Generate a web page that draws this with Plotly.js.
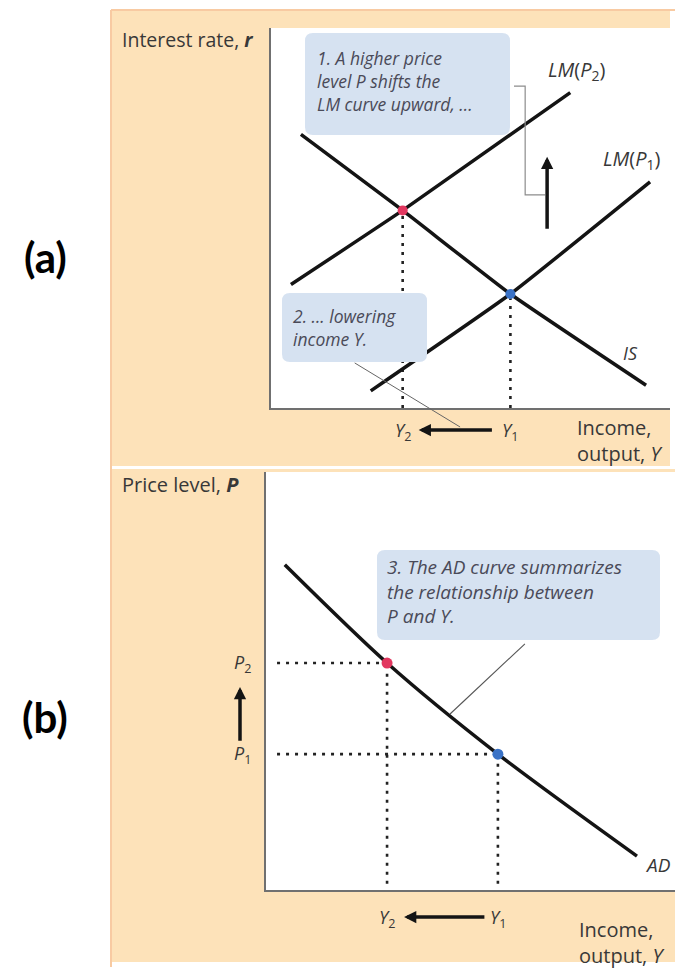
<!DOCTYPE html>
<html>
<head>
<meta charset="utf-8">
<script src="https://cdn.plot.ly/plotly-3.0.1.min.js"></script>
<style>
  html, body { margin: 0; padding: 0; background: #ffffff; }
  #chart { width: 675px; height: 969px; }
</style>
</head>
<body>
<div id="chart"></div>
<script>
// ---------- Panel (a): IS–LM diagram (income Y, interest rate r) ----------
const isY  = [0.75, 3.3, 6.0, 9.4];
const isR  = [7.2, 5.2, 3.0, 0.6];
const lm2Y = [0.5, 3.3, 7.5];          // LM(P2)
const lm2R = [3.25, 5.2, 8.3];
const lm1Y = [2.5, 6.0, 9.5];          // LM(P1)
const lm1R = [0.45, 3.0, 5.95];
const eqYa = [3.3, 6.0];               // Y2, Y1
const eqRa = [5.2, 3.0];               // r at the two equilibria
const bracketY = [6.09, 6.37, 6.37, 6.87];
const bracketR = [8.47, 8.47, 5.61, 5.61];
const shiftArrowY = 6.92;
const shiftArrowR = [4.68, 6.61];      // tail, head

// ---------- Panel (b): AD curve (income Y, price level P) ----------
const adY  = [0.46, 2.96, 5.67, 9.07];
const adP  = [7.78, 5.43, 3.25, 0.81];
const eqYb = [2.96, 5.67];             // Y2, Y1
const eqPb = [5.43, 3.25];             // P2, P1
const adCalloutY = [6.33, 4.50];
const adCalloutP = [5.89, 4.21];

const eqColors = ['#e2375f', '#3a72c6'];
const yLabels  = ['<i>Y</i><sub>2</sub>', '<i>Y</i><sub>1</sub>'];
const pLabels  = ['<i>P</i><sub>2</sub>', '<i>P</i><sub>1</sub>'];

const note1 = ['1. A higher price', 'level P shifts the', 'LM curve upward, ...'];
const note2 = ['2. ... lowering', 'income Y.'];
const note3 = ['3. The AD curve summarizes', 'the relationship between', 'P and Y.'];

// ---------- page geometry (pixels -> paper fractions) ----------
const W = 675, H = 969;
const X = v => v / W;
const Yp = v => 1 - v / H;

const TAN = '#fde2b9';
const EDGE = '#f8caa2';
const BOX = 'rgb(214,226,241)';
const INK = '#141414';
const LABEL = '#383838';
const NOTE = '#4a4a58';
const FONT = '"Open Sans", Lato, sans-serif';
const DOTS = '3px,6px';

function roundBox(l, t, r, b, rad) {
  return `M${X(l + rad)},${Yp(t)} L${X(r - rad)},${Yp(t)} Q${X(r)},${Yp(t)} ${X(r)},${Yp(t + rad)} ` +
         `L${X(r)},${Yp(b - rad)} Q${X(r)},${Yp(b)} ${X(r - rad)},${Yp(b)} ` +
         `L${X(l + rad)},${Yp(b)} Q${X(l)},${Yp(b)} ${X(l)},${Yp(b - rad)} ` +
         `L${X(l)},${Yp(t + rad)} Q${X(l)},${Yp(t)} ${X(l + rad)},${Yp(t)} Z`;
}

const curve = { color: INK, width: 3.5, shape: 'spline', smoothing: 0.4 };
const dotted = { color: '#222', width: 2.6, dash: DOTS };

const traces = [];

// panel (a) dotted drop lines
eqYa.forEach((y, i) => traces.push({
  x: [y, y], y: [0, eqRa[i]], xaxis: 'x', yaxis: 'y',
  mode: 'lines', line: dotted
}));
// panel (a) curves
traces.push({ x: isY,  y: isR,  xaxis: 'x', yaxis: 'y', mode: 'lines', line: curve });
traces.push({ x: lm2Y, y: lm2R, xaxis: 'x', yaxis: 'y', mode: 'lines', line: curve });
traces.push({ x: lm1Y, y: lm1R, xaxis: 'x', yaxis: 'y', mode: 'lines', line: curve });
// bracket joining note 1 to the shift arrow
traces.push({ x: bracketY, y: bracketR, xaxis: 'x', yaxis: 'y', mode: 'lines',
  line: { color: '#8c8c8c', width: 1.2 } });
// equilibrium points
traces.push({ x: eqYa, y: eqRa, xaxis: 'x', yaxis: 'y', mode: 'markers',
  marker: { size: 10, color: eqColors } });

// panel (b) dotted guides
eqYb.forEach((y, i) => {
  traces.push({ x: [0.27, y], y: [eqPb[i], eqPb[i]], xaxis: 'x2', yaxis: 'y2', mode: 'lines', line: dotted });
  traces.push({ x: [y, y], y: [0.15, eqPb[i]], xaxis: 'x2', yaxis: 'y2', mode: 'lines', line: dotted });
});
traces.push({ x: adY, y: adP, xaxis: 'x2', yaxis: 'y2', mode: 'lines',
  line: { color: INK, width: 3.5, shape: 'spline', smoothing: 0.8 } });
traces.push({ x: adCalloutY, y: adCalloutP, xaxis: 'x2', yaxis: 'y2', mode: 'lines',
  line: { color: '#555', width: 1.1 } });
traces.push({ x: eqYb, y: eqPb, xaxis: 'x2', yaxis: 'y2', mode: 'markers',
  marker: { size: 11, color: eqColors } });

const axisBase = {
  range: [0, 10], showline: true, linecolor: '#707070', linewidth: 1.6,
  showgrid: false, zeroline: false, showticklabels: false, ticks: '', fixedrange: true
};

const shapes = [
  // tan panels
  { type: 'rect', xref: 'paper', yref: 'paper', x0: X(112), x1: X(670), y0: Yp(466), y1: Yp(11),
    fillcolor: TAN, line: { width: 0 }, layer: 'below' },
  { type: 'rect', xref: 'paper', yref: 'paper', x0: X(112), x1: 1, y0: Yp(962), y1: Yp(469),
    fillcolor: TAN, line: { width: 0 }, layer: 'below' },
  // outer frame edges
  { type: 'line', xref: 'paper', yref: 'paper', x0: X(111), x1: 1, y0: Yp(10), y1: Yp(10),
    line: { color: EDGE, width: 2 }, layer: 'below' },
  { type: 'line', xref: 'paper', yref: 'paper', x0: X(111), x1: X(111), y0: Yp(10), y1: Yp(967),
    line: { color: EDGE, width: 2 }, layer: 'below' },
  // white plotting areas
  { type: 'rect', xref: 'paper', yref: 'paper', x0: X(271), x1: X(670), y0: Yp(408), y1: Yp(28),
    fillcolor: '#ffffff', line: { width: 0 }, layer: 'below' },
  { type: 'rect', xref: 'paper', yref: 'paper', x0: X(266), x1: 1, y0: Yp(890), y1: Yp(472),
    fillcolor: '#ffffff', line: { width: 0 }, layer: 'below' },
  // note boxes
  { type: 'path', xref: 'paper', yref: 'paper', path: roundBox(305, 33, 510, 135, 8),
    fillcolor: BOX, line: { width: 0 }, layer: 'above' },
  { type: 'path', xref: 'paper', yref: 'paper', path: roundBox(282, 293, 427, 362, 8),
    fillcolor: BOX, line: { width: 0 }, layer: 'above' },
  { type: 'path', xref: 'paper', yref: 'paper', path: roundBox(377, 550, 660, 640, 8),
    fillcolor: BOX, line: { width: 0 }, layer: 'above' }
];

const txt = (size, color, extra) => Object.assign({ family: FONT, size: size, color: color }, extra || {});

// free-standing text placed on the page (pixel position -> paper)
function pageText(text, x, y, size, opts) {
  return Object.assign({ xref: 'paper', yref: 'paper', x: X(x), y: Yp(y), text: text,
    showarrow: false, xanchor: 'left', yanchor: 'middle', align: 'left',
    font: txt(size, LABEL) }, opts || {});
}

const tagFont = { family: 'Lato, sans-serif', size: 42, color: '#000' };

const annotations = [
  // panel tags
  pageText('<b>(a)</b>', 45, 257, 42, { xanchor: 'center', font: tagFont }),
  pageText('<b>(b)</b>', 45, 717, 42, { xanchor: 'center', font: tagFont }),
  // axis titles
  pageText('Interest rate, <i><b>r</b></i>', 120, 40, 19.5),
  pageText('Income,<br>output, <i>Y</i>', 575, 441, 20),
  pageText('Price level, <i><b>P</b></i>', 120, 485, 20),
  pageText('Income,<br>output, <i>Y</i>', 577, 942, 20),
  // curve labels
  { xref: 'x', yref: 'y', x: 7.67, y: 8.87, text: '<i>LM</i>(<i>P</i><sub>2</sub>)', showarrow: false,
    xanchor: 'center', yanchor: 'middle', font: txt(20, LABEL) },
  { xref: 'x', yref: 'y', x: 9.05, y: 6.53, text: '<i>LM</i>(<i>P</i><sub>1</sub>)', showarrow: false,
    xanchor: 'center', yanchor: 'middle', font: txt(20, LABEL) },
  { xref: 'x', yref: 'y', x: 9.02, y: 1.45, text: '<i>IS</i>', showarrow: false,
    xanchor: 'center', yanchor: 'middle', font: txt(18, LABEL) },
  { xref: 'x2', yref: 'y2', x: 9.22, y: 0.6, xanchor: 'left', yanchor: 'middle', text: '<i>AD</i>',
    showarrow: false, font: txt(19, LABEL) },
  // notes
  pageText('<i>' + note1.join('<br>') + '</i>', 315, 81, 17.5, { font: txt(17.5, NOTE) }),
  pageText('<i>' + note2.join('<br>') + '</i>', 291, 327, 17.5, { font: txt(17.5, NOTE) }),
  pageText('<i>' + note3.join('<br>') + '</i>', 385, 591, 19, { font: txt(19, NOTE) }),
  // upward shift of LM
  { xref: 'x', yref: 'y', x: shiftArrowY, y: shiftArrowR[1], axref: 'x', ayref: 'y',
    ax: shiftArrowY, ay: shiftArrowR[0], text: '', showarrow: true,
    arrowhead: 2, arrowsize: 0.7, arrowwidth: 3.5, arrowcolor: INK },
  // pointer from note 2 to the income arrow
  { xref: 'x', yref: 'y', x: 4.74, y: -0.5, axref: 'x', ayref: 'y', ax: 2.06, ay: 1.21,
    text: '', showarrow: true, arrowhead: 0, arrowwidth: 1, arrowcolor: '#666' },
  // income shift arrows
  { xref: 'x', yref: 'paper', x: eqYa[0], y: Yp(430), axref: 'x', ax: eqYa[1], ayref: 'pixel', ay: 0,
    text: '', showarrow: true, arrowhead: 2, arrowsize: 0.7, arrowwidth: 3.5, arrowcolor: INK,
    standoff: 16, startstandoff: 17 },
  { xref: 'x2', yref: 'paper', x: eqYb[0], y: Yp(917), axref: 'x2', ax: eqYb[1], ayref: 'pixel', ay: 0,
    text: '', showarrow: true, arrowhead: 2, arrowsize: 0.7, arrowwidth: 3.5, arrowcolor: INK,
    standoff: 17, startstandoff: 12 },
  // price-level rise arrow
  { xref: 'paper', yref: 'y2', x: X(240), y: eqPb[0], axref: 'pixel', ax: 0, ayref: 'y2', ay: eqPb[1],
    text: '', showarrow: true, arrowhead: 2, arrowsize: 0.7, arrowwidth: 3.5, arrowcolor: INK,
    standoff: 24, startstandoff: 12 }
];

// Y and P markers beside the axes
eqYa.forEach((y, i) => annotations.push({ xref: 'x', yref: 'paper', x: y, y: Yp(431),
  xanchor: 'center', yanchor: 'middle', text: yLabels[i], showarrow: false, font: txt(18, LABEL) }));
eqYb.forEach((y, i) => annotations.push({ xref: 'x2', yref: 'paper', x: y, y: Yp(918),
  xanchor: 'center', yanchor: 'middle', text: yLabels[i], showarrow: false, font: txt(18, LABEL) }));
eqPb.forEach((p, i) => annotations.push({ xref: 'paper', yref: 'y2', x: X(242), y: p,
  xanchor: 'center', yanchor: 'middle', text: pLabels[i], showarrow: false, font: txt(18, LABEL) }));

const layout = {
  width: W, height: H,
  margin: { l: 0, r: 0, t: 0, b: 0, pad: 0 },
  paper_bgcolor: '#ffffff', plot_bgcolor: 'rgba(0,0,0,0)',
  showlegend: false, hovermode: false,
  xaxis:  Object.assign({}, axisBase, { domain: [X(271), X(670)], anchor: 'y' }),
  yaxis:  Object.assign({}, axisBase, { domain: [Yp(408), Yp(28)], anchor: 'x' }),
  xaxis2: Object.assign({}, axisBase, { domain: [X(266), 1], anchor: 'y2' }),
  yaxis2: Object.assign({}, axisBase, { domain: [Yp(890), Yp(472)], anchor: 'x2' }),
  shapes: shapes,
  annotations: annotations
};

Plotly.newPlot('chart', traces, layout, { staticPlot: true, displayModeBar: false });
</script>
</body>
</html>
